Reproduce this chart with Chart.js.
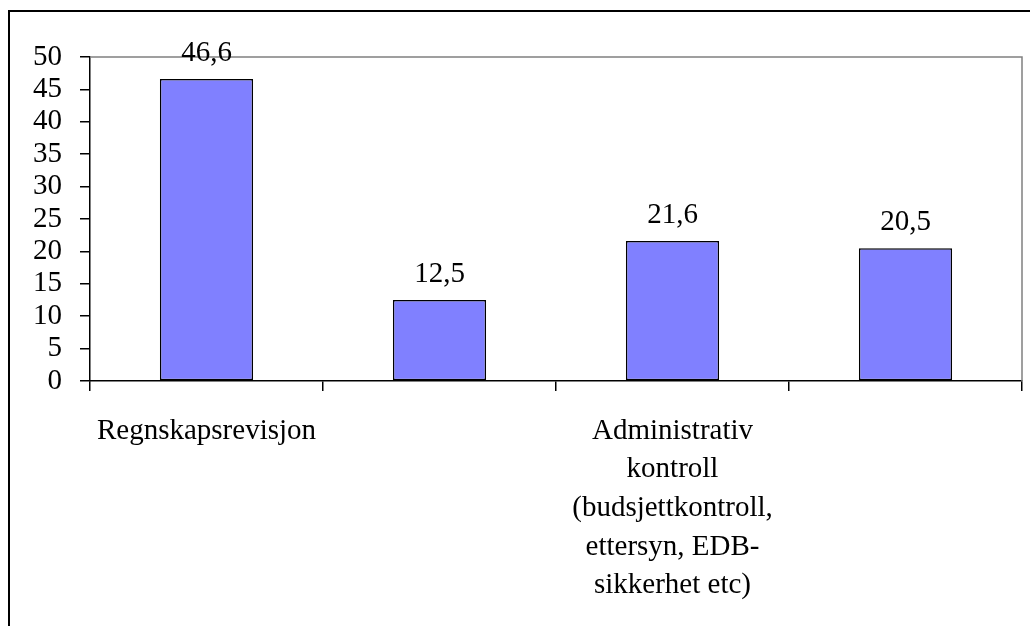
<!DOCTYPE html>
<html>
<head>
<meta charset="utf-8">
<script src="https://cdn.jsdelivr.net/npm/chart.js@4.4.1/dist/chart.umd.min.js"></script>
<style>
  body { margin: 0; background: #ffffff; }
  #wrap { width: 1030px; height: 626px; position: relative; }
</style>
</head>
<body>
<div id="wrap"><canvas id="bar-chart"></canvas></div>
<script>
// data
const categories = [
  ["Regnskapsrevisjon"],
  "",
  ["Administrativ", "kontroll", "(budsjettkontroll,", "ettersyn, EDB-", "sikkerhet etc)"],
  ""
];
const values = [46.6, 12.5, 21.6, 20.5];
const yTicks = [0, 5, 10, 15, 20, 25, 30, 35, 40, 45, 50];

const serif = "'Liberation Serif', 'Times New Roman', serif";

// outer frame + grey plot border + value labels
const frame = {
  id: 'frame',
  beforeDraw(chart) {
    const c = chart.ctx;
    c.save();
    c.fillStyle = '#ffffff';
    c.fillRect(0, 0, chart.width, chart.height);
    c.strokeStyle = '#000000';
    c.lineWidth = 2;
    c.strokeRect(9, 11, chart.width + 20, chart.height + 20);
    c.restore();
  },
  beforeDatasetsDraw(chart) {
    const a = chart.chartArea;
    const c = chart.ctx;
    c.save();
    c.strokeStyle = '#808080';
    c.lineWidth = 1.5;
    c.beginPath();
    c.moveTo(a.left, a.top);
    c.lineTo(a.right, a.top);
    c.lineTo(a.right, a.bottom);
    c.stroke();
    c.restore();
  },
  afterDatasetsDraw(chart) {
    const c = chart.ctx;
    const meta = chart.getDatasetMeta(0);
    c.save();
    c.font = "29px " + serif;
    c.fillStyle = '#000000';
    c.textAlign = 'center';
    c.textBaseline = 'alphabetic';
    meta.data.forEach((bar, i) => {
      c.fillText(values[i].toString().replace('.', ','), bar.x, bar.y - 18);
    });
    c.restore();
  }
};

const ctx = document.getElementById('bar-chart')?.getContext('2d');
if (ctx) {
  new Chart(ctx, {
    type: 'bar',
    data: {
      labels: categories,
      datasets: [{
        data: values,
        backgroundColor: '#8080ff',
        borderColor: '#000000',
        borderWidth: 1.5,
        borderSkipped: false,
        barPercentage: 0.4,
        categoryPercentage: 1
      }]
    },
    options: {
      responsive: true,
      maintainAspectRatio: false,
      animation: false,
      layout: { padding: { left: 0, right: 8, top: 57, bottom: 0 } },
      plugins: {
        legend: { display: false },
        tooltip: { enabled: false }
      },
      scales: {
        x: {
          offset: true,
          grid: {
            offset: true,
            drawOnChartArea: false,
            drawTicks: true,
            tickLength: 10,
            color: '#000000',
            lineWidth: 1.5
          },
          border: { display: true, color: '#000000', width: 1.5 },
          ticks: {
            autoSkip: false,
            maxRotation: 0,
            padding: 21,
            color: '#000000',
            font: { family: serif, size: 29, lineHeight: 1.33 }
          },
          afterFit(scale) { scale.height = 245; }
        },
        y: {
          min: 0,
          max: 50,
          afterBuildTicks(scale) { scale.ticks = yTicks.map(v => ({ value: v })); },
          grid: {
            drawOnChartArea: false,
            drawTicks: true,
            tickLength: 10,
            color: '#000000',
            lineWidth: 1.5
          },
          border: { display: true, color: '#000000', width: 1.5 },
          ticks: {
            autoSkip: false,
            padding: 18,
            color: '#000000',
            font: { family: serif, size: 29 }
          },
          afterFit(scale) { scale.width = 90; }
        }
      }
    },
    plugins: [frame]
  });
} else {
  console.error("bar-chart not found");
}
</script>
</body>
</html>
